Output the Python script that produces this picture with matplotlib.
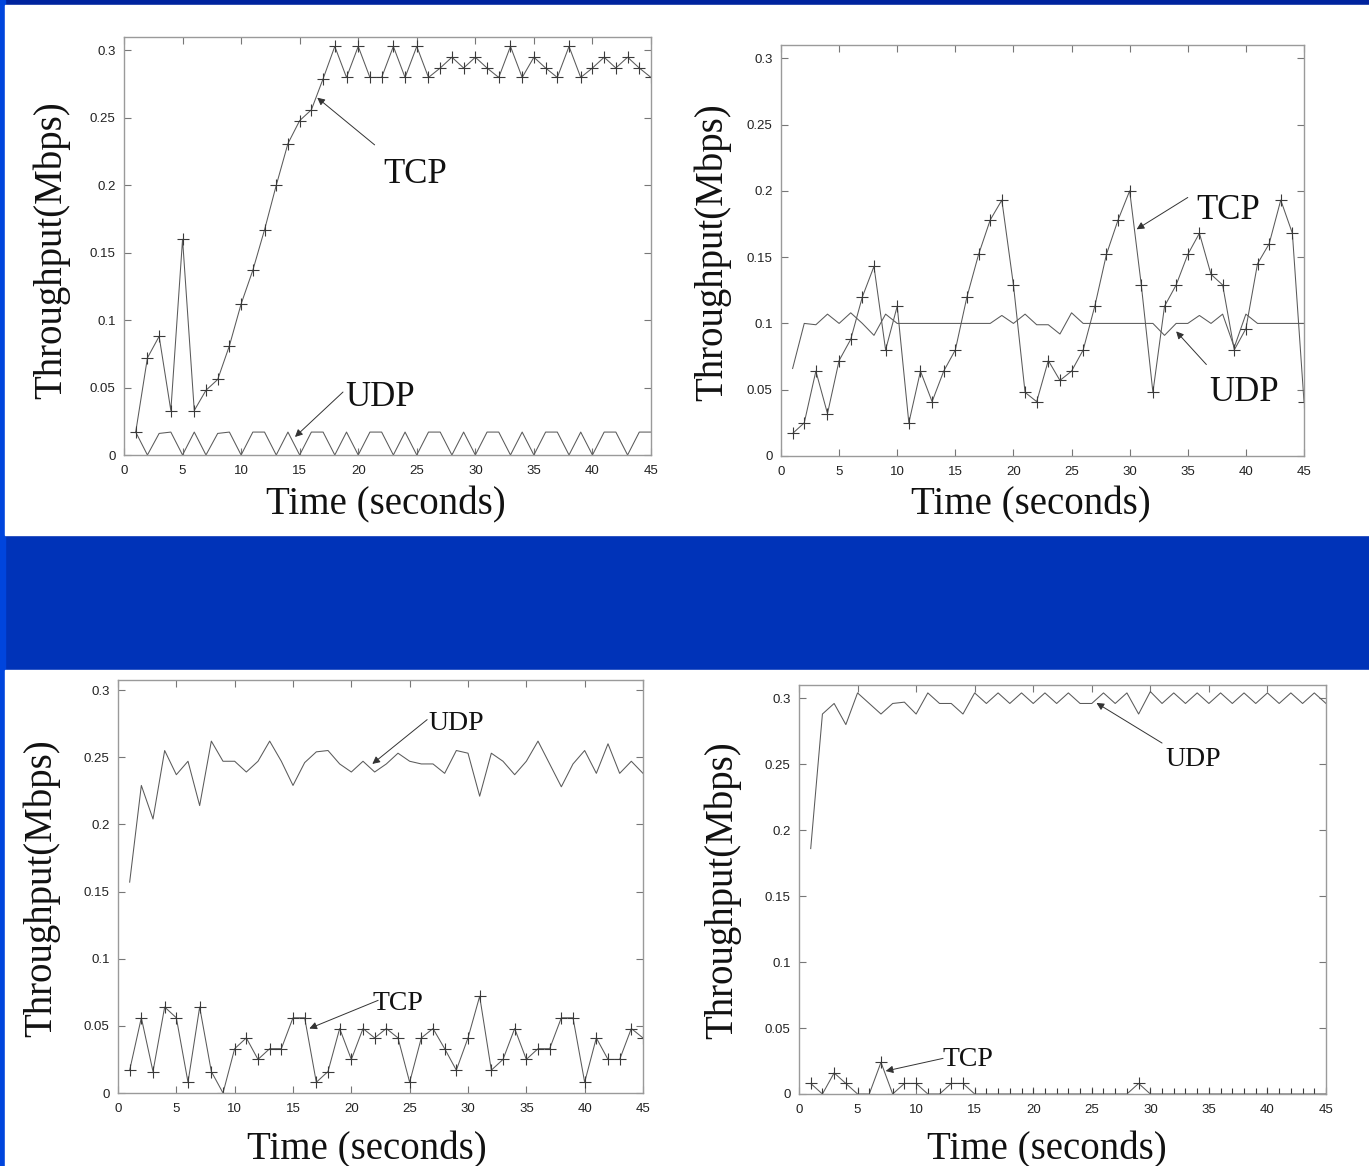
"""Four TCP vs UDP throughput panels on a blue slide background."""

from __future__ import annotations

import matplotlib

matplotlib.use("Agg")
import matplotlib.pyplot as plt
from matplotlib.patches import Rectangle

W, H = 1369, 1166

TIME = list(range(1, 46))
X_TICKS = [0, 5, 10, 15, 20, 25, 30, 35, 40, 45]
Y_TICKS = [0, 0.05, 0.1, 0.15, 0.2, 0.25, 0.3]
Y_TICK_LABELS = ["0", "0.05", "0.1", "0.15", "0.2", "0.25", "0.3"]

# top-left panel
tcp_a = [0.017, 0.072, 0.088, 0.033, 0.160, 0.033, 0.048, 0.056, 0.081, 0.112,
         0.137, 0.167, 0.200, 0.231, 0.248, 0.256, 0.279, 0.303, 0.280, 0.303,
         0.280, 0.280, 0.303, 0.280, 0.303, 0.280, 0.287, 0.295, 0.287, 0.295,
         0.287, 0.280, 0.303, 0.280, 0.295, 0.287, 0.280, 0.303, 0.280, 0.287,
         0.295, 0.287, 0.295, 0.287, 0.280]
udp_a = [0.017, 0.0, 0.016, 0.017, 0.0, 0.017, 0.0, 0.016, 0.017, 0.0,
         0.017, 0.017, 0.0, 0.017, 0.0, 0.017, 0.017, 0.0, 0.017, 0.0,
         0.017, 0.017, 0.0, 0.017, 0.0, 0.017, 0.017, 0.0, 0.017, 0.0,
         0.017, 0.017, 0.0, 0.017, 0.0, 0.017, 0.017, 0.0, 0.017, 0.0,
         0.017, 0.017, 0.0, 0.017, 0.017]

# top-right panel
tcp_b = [0.017, 0.025, 0.064, 0.032, 0.072, 0.088, 0.120, 0.143, 0.080, 0.113,
         0.025, 0.064, 0.041, 0.064, 0.080, 0.120, 0.152, 0.178, 0.193, 0.129,
         0.048, 0.041, 0.072, 0.057, 0.064, 0.080, 0.113, 0.152, 0.178, 0.200,
         0.129, 0.048, 0.113, 0.129, 0.152, 0.168, 0.137, 0.129, 0.080, 0.096,
         0.145, 0.160, 0.193, 0.168, 0.041]
udp_b = [0.066, 0.100, 0.099, 0.107, 0.100, 0.108, 0.100, 0.091, 0.107, 0.100,
         0.100, 0.100, 0.100, 0.100, 0.100, 0.100, 0.100, 0.100, 0.106, 0.100,
         0.107, 0.099, 0.099, 0.092, 0.108, 0.100, 0.100, 0.100, 0.100, 0.100,
         0.100, 0.100, 0.091, 0.100, 0.100, 0.106, 0.100, 0.107, 0.082, 0.107,
         0.100, 0.100, 0.100, 0.100, 0.100]

# bottom-left panel
tcp_c = [0.017, 0.056, 0.016, 0.064, 0.056, 0.008, 0.064, 0.016, 0.0, 0.033,
         0.041, 0.025, 0.033, 0.033, 0.056, 0.056, 0.008, 0.016, 0.048, 0.025,
         0.048, 0.041, 0.048, 0.041, 0.008, 0.041, 0.048, 0.033, 0.017, 0.041,
         0.072, 0.017, 0.025, 0.048, 0.025, 0.033, 0.033, 0.056, 0.056, 0.008,
         0.041, 0.025, 0.025, 0.048, 0.041]
udp_c = [0.157, 0.229, 0.204, 0.255, 0.237, 0.247, 0.214, 0.262, 0.247, 0.247,
         0.239, 0.247, 0.262, 0.247, 0.229, 0.246, 0.254, 0.255, 0.245, 0.239,
         0.247, 0.239, 0.245, 0.253, 0.247, 0.245, 0.245, 0.238, 0.255, 0.253,
         0.221, 0.253, 0.247, 0.237, 0.247, 0.262, 0.245, 0.228, 0.245, 0.255,
         0.238, 0.260, 0.238, 0.247, 0.238]

# bottom-right panel
tcp_d = [0.008, 0.0, 0.016, 0.008, 0.0, 0.0, 0.024, 0.0, 0.008, 0.008,
         0.0, 0.0, 0.008, 0.008, 0.0, 0.0, 0.0, 0.0, 0.0, 0.0,
         0.0, 0.0, 0.0, 0.0, 0.0, 0.0, 0.0, 0.0, 0.008, 0.0,
         0.0, 0.0, 0.0, 0.0, 0.0, 0.0, 0.0, 0.0, 0.0, 0.0,
         0.0, 0.0, 0.0, 0.0, 0.0]
udp_d = [0.186, 0.288, 0.296, 0.280, 0.304, 0.296, 0.288, 0.296, 0.297, 0.288,
         0.304, 0.296, 0.296, 0.288, 0.304, 0.296, 0.304, 0.296, 0.304, 0.296,
         0.304, 0.296, 0.304, 0.296, 0.296, 0.304, 0.296, 0.304, 0.288, 0.305,
         0.296, 0.304, 0.296, 0.304, 0.296, 0.304, 0.296, 0.304, 0.296, 0.304,
         0.296, 0.304, 0.296, 0.304, 0.296]

LINE = "#5a5a5a"
FRAME = "#9a9a9a"
SERIF = ["Liberation Serif", "DejaVu Serif"]
SANS = ["Liberation Sans", "DejaVu Sans"]


def frac(x, y):
    """pixel (from top-left) -> figure fraction"""
    return x / W, 1 - y / H


def rect(left, top, right, bottom):
    return [left / W, 1 - bottom / H, (right - left) / W, (bottom - top) / H]


def make_axes(fig, box, ytop):
    ax = fig.add_axes(rect(*box))
    ax.set_zorder(5)
    ax.set_xlim(0, 45)
    ax.set_ylim(0, ytop)
    ax.set_xticks(X_TICKS)
    ax.set_yticks(Y_TICKS)
    ax.set_yticklabels(Y_TICK_LABELS)
    ax.tick_params(direction="in", top=True, right=True, length=5, width=0.8,
                   color="#777777", labelsize=9.5, labelcolor="#222222")
    ax.tick_params(axis="x", pad=7)
    ax.tick_params(axis="y", pad=6)
    for lab in ax.get_xticklabels() + ax.get_yticklabels():
        lab.set_family(SANS)
    for sp in ax.spines.values():
        sp.set_color(FRAME)
        sp.set_linewidth(1.0)
    return ax


def draw_series(ax, tcp, udp):
    ax.plot(TIME, udp, color=LINE, lw=0.75)
    ax.plot(TIME, tcp, color=LINE, lw=0.75, marker="+", ms=8, mew=0.8,
            mec="#3a3a3a")


def label(ax, text, tip, tail, pos, size):
    ax.annotate("", xy=tip, xytext=tail,
                arrowprops=dict(arrowstyle="-|>", color="#333333", lw=0.7,
                                mutation_scale=11, shrinkA=0, shrinkB=0))
    ax.text(*pos, text, family=SERIF, fontsize=size, ha="center", va="center",
            color="#111111")


def axis_titles(fig, ylab_xy, xlab_xy):
    fig.text(*frac(*ylab_xy), "Throughput(Mbps)", family=SERIF, fontsize=28,
             rotation=90, ha="center", va="center", color="#111111", zorder=6)
    fig.text(*frac(*xlab_xy), "Time (seconds)", family=SERIF, fontsize=28,
             ha="center", va="center", color="#111111", zorder=6)


def main() -> None:
    fig = plt.figure(figsize=(W / 100, H / 100), dpi=100, facecolor="#0033b8")

    # slide background pieces
    bg = [
        (frac(0, 535), 1, 535 / H, "#00239e"),
        (frac(0, 1166), 5 / W, 1, "#0045dd"),
        (frac(5, 535), 1, 530 / H, "white"),
        (frac(5, 1166), 1, 496 / H, "white"),
    ]
    for i, (xy, w, h, c) in enumerate(bg):
        fig.patches.append(Rectangle(xy, w, h, transform=fig.transFigure,
                                     color=c, zorder=-3 + i * 0.1))

    ax1 = make_axes(fig, (124, 37, 651, 455), 0.31)
    draw_series(ax1, tcp_a, udp_a)
    label(ax1, "TCP", (16.5, 0.265), (21.4, 0.23), (24.9, 0.208), 25)
    label(ax1, "UDP", (14.6, 0.0134), (18.7, 0.0467), (21.9, 0.043), 25)
    axis_titles(fig, (52, 250), (386, 505))

    ax2 = make_axes(fig, (781, 45, 1304, 456), 0.31)
    draw_series(ax2, tcp_b, udp_b)
    label(ax2, "TCP", (30.6, 0.171), (35.0, 0.195), (38.5, 0.185), 25)
    label(ax2, "UDP", (34.0, 0.094), (36.6, 0.069), (39.8, 0.048), 25)
    axis_titles(fig, (712, 252), (1031, 505))

    ax3 = make_axes(fig, (118, 680, 643, 1093), 0.3075)
    draw_series(ax3, tcp_c, udp_c)
    label(ax3, "UDP", (21.8, 0.245), (26.5, 0.278), (29.0, 0.275), 20)
    label(ax3, "TCP", (16.4, 0.048), (22.3, 0.069), (24.0, 0.0665), 20)
    axis_titles(fig, (42, 888), (367, 1150))

    ax4 = make_axes(fig, (799, 685, 1326, 1094), 0.31)
    draw_series(ax4, tcp_d, udp_d)
    label(ax4, "UDP", (25.4, 0.2964), (31.0, 0.266), (33.7, 0.2535), 20)
    label(ax4, "TCP", (7.4, 0.0174), (12.3, 0.027), (14.4, 0.026), 20)
    axis_titles(fig, (722, 890), (1047, 1150))

    fig.savefig("out.png", dpi=100, facecolor=fig.get_facecolor())
    plt.close(fig)


if __name__ == "__main__":
    main()
